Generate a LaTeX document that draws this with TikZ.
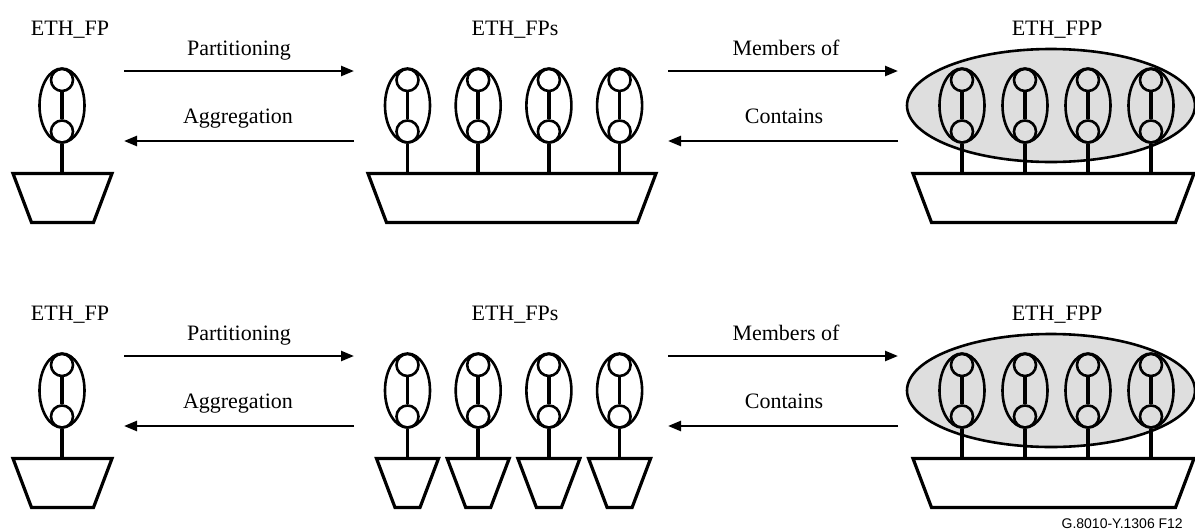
\documentclass[tikz,border=0pt]{standalone}
\usepackage{fontspec}
\setmainfont{Liberation Serif}
\setsansfont{Liberation Sans}
\usetikzlibrary{arrows.meta,shapes.geometric}

\begin{document}
\begin{tikzpicture}[x=1pt,y=-1pt]
  \tikzset{ring/.style = {shape=ellipse, draw, line width=2.6pt, minimum width=45pt, minimum height=74pt, inner sep=0pt}}
  \tikzset{port/.style = {shape=circle, draw, line width=2.6pt, minimum size=22pt, inner sep=0pt}}
  \tikzset{pots/.pic = {\draw[line width=3.2pt, line join=miter] (-\potw/2,0) -- (\potw/2,0) -- (\potw/2-18.5,49) -- (-\potw/2+18.5,49) -- cycle;}}
  \tikzset{pool/.style = {shape=ellipse, draw, fill=black!13, line width=2.6pt, minimum width=288pt, minimum height=113pt, inner sep=0pt}}
  \tikzset{stem/.style = {black, line width=3.6pt}}
  \tikzset{flow/.style = {line width=2.4pt, -{Triangle[length=13pt,width=10pt]}}}
  \tikzset{caption/.style = {font=\fontsize{22}{26}\selectfont, anchor=base, inner sep=0pt}}
  \useasboundingbox (0,0) rectangle (1195,531);
  \foreach \r/\oy in {t/0,b/285}{
    % titles
    \node[caption] (nfp\r) at (70,35+\oy) {ETH\_FP};
    \node[caption] (nfps\r) at (515,35+\oy) {ETH\_FPs};
    \node[caption] (nfpp\r) at (1057,35+\oy) {ETH\_FPP};
    \node[caption] (npart\r) at (239,55+\oy) {Partitioning};
    \node[caption] (naggr\r) at (238,123+\oy) {Aggregation};
    \node[caption] (nmemb\r) at (786,55+\oy) {Members of};
    \node[caption] (ncont\r) at (784,123+\oy) {Contains};
    % arrows
    \coordinate (la\r) at (124,71+\oy);
    \coordinate (lb\r) at (354,71+\oy);
    \coordinate (lc\r) at (124,141+\oy);
    \coordinate (ld\r) at (354,141+\oy);
    \coordinate (ra\r) at (668,71+\oy);
    \coordinate (rb\r) at (898,71+\oy);
    \coordinate (rc\r) at (668,141+\oy);
    \coordinate (rd\r) at (898,141+\oy);
    \draw[flow] (la\r) -- (lb\r);
    \draw[flow] (ld\r) -- (lc\r);
    \draw[flow] (ra\r) -- (rb\r);
    \draw[flow] (rd\r) -- (rc\r);
    % single flow point
    \node[ring] (f\r) at (62,105.5+\oy) {};
    \node[port] (fa\r) at (62,80+\oy) {};
    \node[port] (fb\r) at (62,131.5+\oy) {};
    \def\potw{99}
    \pic (fpot\r) at (62.5,173.5+\oy) {pots};
    \coordinate (fpot\r) at (62.5,173.5+\oy);
    \draw[stem] (fa\r) -- (fb\r);
    \draw[stem] (fb\r) -- (fb\r |- fpot\r);
    % flow point pool
    \node[pool] (pool\r) at (1051,105.5+\oy) {};
    \def\potw{281}
    \pic (gpot\r) at (1053.5,173.5+\oy) {pots};
    \coordinate (gpot\r) at (1053.5,173.5+\oy);
    \foreach \i in {0,...,3}{
      \pgfmathsetmacro\x{962+63*\i}
      \node[ring] (g\r\i) at (\x,105.5+\oy) {};
      \node[port] (ga\r\i) at (\x,80+\oy) {};
      \node[port] (gb\r\i) at (\x,131.5+\oy) {};
      \draw[stem] (ga\r\i) -- (gb\r\i);
      \draw[stem] (gb\r\i) -- (gb\r\i |- gpot\r);
    }
    % flow points
    \foreach \i in {0,...,3}{
      \pgfmathsetmacro\x{407.5+70.7*\i}
      \node[ring] (m\r\i) at (\x,105.5+\oy) {};
      \node[port] (ma\r\i) at (\x,80+\oy) {};
      \node[port] (mb\r\i) at (\x,131.5+\oy) {};
      \draw[stem] (ma\r\i) -- (mb\r\i);
    }
  }
  % partitioned pots
  \def\potw{288}
  \pic (mpott) at (512,173.5) {pots};
  \coordinate (mpott) at (512,173.5);
  \def\potw{62}
  \foreach \i in {0,...,3}{
    \draw[stem] (mbt\i) -- (mbt\i |- mpott);
    \coordinate (mpotb\i) at (mbb\i |- 0,458.5);
    \pic at (mpotb\i) {pots};
    \draw[stem] (mbb\i) -- (mpotb\i);
  }
  \node[font=\sffamily\fontsize{14}{16}\selectfont, anchor=base east, inner sep=0pt] (code) at (1183,528) {G.8010-Y.1306 F12};
\end{tikzpicture}
\end{document}
